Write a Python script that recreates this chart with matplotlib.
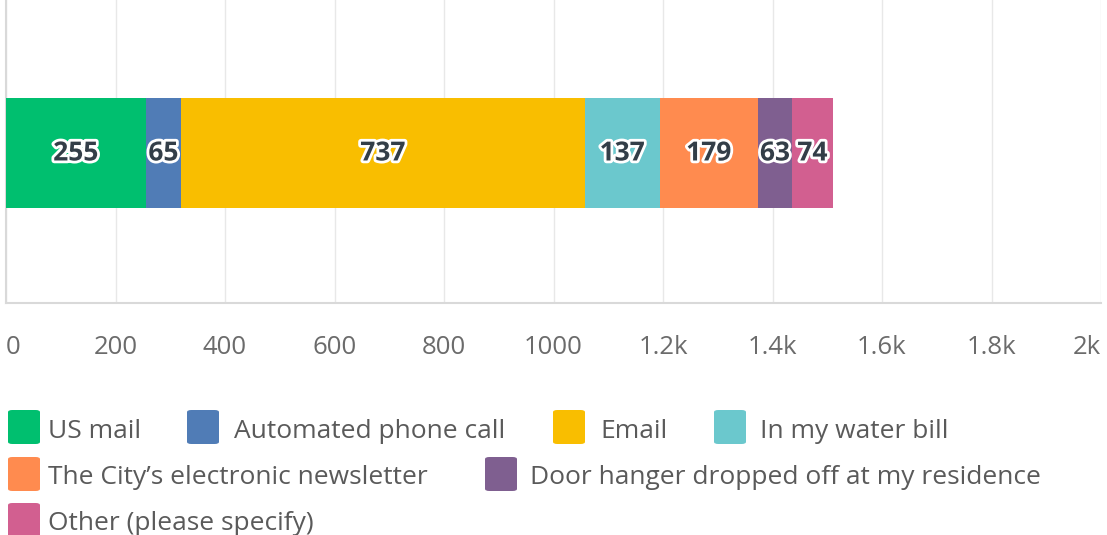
import matplotlib
matplotlib.use("Agg")
import matplotlib.pyplot as plt
import matplotlib.patheffects as pe
from matplotlib.patches import FancyBboxPatch

categories = ["US mail", "Automated phone call", "Email", "In my water bill",
              "The City\u2019s electronic newsletter",
              "Door hanger dropped off at my residence", "Other (please specify)"]
values = [255, 65, 737, 137, 179, 63, 74]
colors = ["#00bf6f", "#507cb6", "#f9be00", "#6bc8cd", "#ff8b4f", "#7f5f90", "#d25f90"]
tick_values = [0, 200, 400, 600, 800, 1000, 1200, 1400, 1600, 1800, 2000]
tick_labels = ["0", "200", "400", "600", "800", "1000", "1.2k", "1.4k", "1.6k", "1.8k", "2k"]

plt.rcParams['font.family'] = ['Open Sans', 'DejaVu Sans']

W, H = 1107, 535
fig = plt.figure(figsize=(W / 100, H / 100), dpi=100)
ax = fig.add_axes([6 / W, 1 - 303 / H, (1101 - 6) / W, 303 / H])

left = 0
for v, c in zip(values, colors):
    ax.barh(0, v, left=left, height=1.0, color=c, edgecolor="none", zorder=3)
    t = ax.text(left + v / 2, 0, str(v), ha="center", va="center",
                fontsize=19, fontweight="bold", color="#333e48", zorder=4)
    t.set_path_effects([pe.withStroke(linewidth=4, foreground="white")])
    left += v

ax.set_xlim(0, 2000)
ax.set_ylim(-1.364, 1.391)
ax.set_yticks([])
ax.set_xticks(tick_values)
ax.set_xticklabels(tick_labels, fontsize=18.5, color="#6b6b6b")
ax.tick_params(axis="x", length=0, pad=23)
xt = ax.get_xticklabels()
xt[0].set_horizontalalignment("left")
xt[-1].set_horizontalalignment("right")
ax.grid(axis="x", color="#e8e8e8", linewidth=1, zorder=0)
for s in ["top", "right"]:
    ax.spines[s].set_visible(False)
for s in ["left", "bottom"]:
    ax.spines[s].set_color("#d9d9d9")
    ax.spines[s].set_linewidth(1.5)

# Legend (flow layout)
legend_pos = [(8, 410, 48), (187, 410, 234), (553, 410, 600), (714, 410, 760),
              (8, 457, 48), (485, 457, 530), (8, 503, 48)]
for (sx, sy, tx), lab, c in zip(legend_pos, categories, colors):
    sq = FancyBboxPatch((sx / W, 1 - (sy + 34) / H), 32 / W, 34 / H,
                        boxstyle="round,pad=0,rounding_size=0.004",
                        transform=fig.transFigure, facecolor=c, edgecolor="none")
    fig.patches.append(sq)
    fig.text(tx / W, 1 - (sy + 21) / H, lab, ha="left", va="center",
             fontsize=19, color="#5a5a5a")

fig.savefig("out.png", dpi=100)
